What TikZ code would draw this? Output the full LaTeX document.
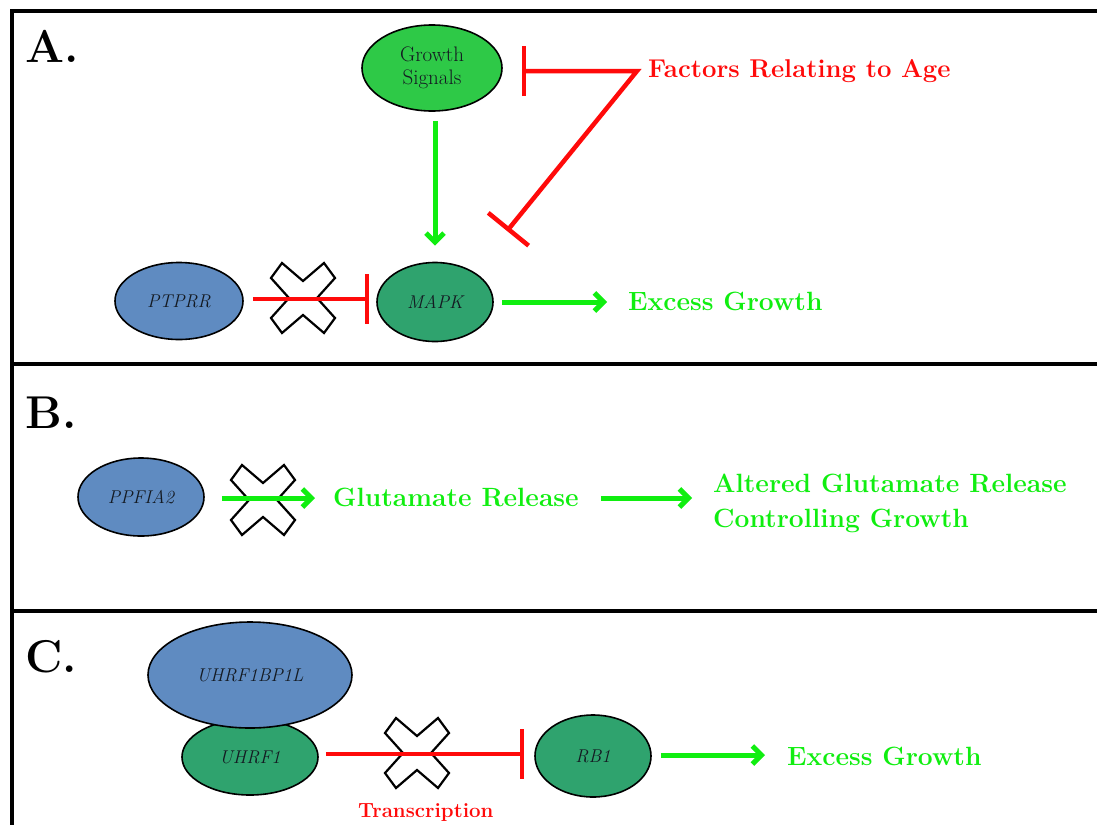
\documentclass[tikz,border=0pt]{standalone}
\usepackage{fontspec}
\setmainfont{Latin Modern Roman}
\usetikzlibrary{arrows.meta,shapes.geometric,calc}
\definecolor{actgreen}{HTML}{10EE10}
\definecolor{inhred}{HTML}{FF0A0A}
\definecolor{lightgreen}{HTML}{2EC947}
\definecolor{darkgreen}{HTML}{2FA36E}
\definecolor{protblue}{HTML}{5F8BC1}
\definecolor{nodetext}{HTML}{141A22}
\begin{document}
\begin{tikzpicture}[x=1pt,y=-1pt,
  frame/.style={line width=4pt,black},
  prot/.style={ellipse,draw=black,line width=1.6pt,inner sep=0pt,text=nodetext,
    font=\fontsize{18.5}{22}\selectfont\itshape},
  act/.style={actgreen,line width=5pt,-{Straight Barb[length=9pt,width=18pt]}},
  inhib/.style={inhred,line width=4.5pt,-{Bar[width=50pt]}},
  gtext/.style={text=actgreen,font=\fontsize{26.4}{35}\selectfont\bfseries,inner sep=0pt,anchor=base west},
  rtext/.style={text=inhred,font=\fontsize{25.7}{30}\selectfont\bfseries,inner sep=0pt,anchor=base west},
  panellabel/.style={font=\fontsize{46}{50}\selectfont\bfseries,inner sep=0pt,anchor=base west},
  crossmark/.pic={\draw[black,line width=2.2pt,fill=white,line join=miter]
    (-32,-20) -- (-21,-35) -- (0,-17) -- (21,-35) -- (32,-20) -- (14,0) --
    (32,20) -- (21,35) -- (0,17) -- (-21,35) -- (-32,20) -- (-14,0) -- cycle;}
]
\useasboundingbox (0,0) rectangle (1097,825);
\fill[white] (0,0) rectangle (1097,825);
% frame
\draw[frame] (1097,11) -- (12,11) -- (12,825);
\draw[frame] (12,364) -- (1097,364);
\draw[frame] (12,611) -- (1097,611);
% panel labels
\node[panellabel] (la) at (25,62) {A.};
\node[panellabel] (lb) at (25,428) {B.};
\node[panellabel] (lc) at (25,672) {C.};

% ---------- Panel A
\node[prot,fill=lightgreen,minimum width=140pt,minimum height=86pt,align=center,
  font=\fontsize{21}{23}\selectfont] (gs) at (432,68) {Growth\\Signals};
\node[prot,fill=protblue,minimum width=128pt,minimum height=77pt] (ptprr) at (179,301) {PTPRR};
\node[prot,fill=darkgreen,minimum width=116pt,minimum height=79pt] (mapk) at (435,302) {MAPK};
\node[rtext] (age) at (648,77) {Factors Relating to Age};
\node[gtext] (eg1) at (628,310) {Excess Growth};
\coordinate (fa) at (637,71);
\coordinate (mt) at (507,231);
\pic (x1) at (303,298) {crossmark};
\draw[act] ($(gs.south)+(3,9)$) -- ($(mapk.north)+(0,-16)$);
\draw[inhred,line width=4.5pt,line join=miter,{Bar[width=50pt]}-{Bar[width=52pt]}]
  ($(gs.east)+(19,3)$) -- (fa) -- (mt);
\draw[inhib] ($(ptprr.east)+(9,-2)$) -- ($(ptprr.east -| mapk.west)+(-7,-2)$);
\draw[act] ($(mapk.east)+(8,0)$) -- ($(mapk.east -| eg1.west)+(-21,0)$);

% ---------- Panel B
\node[prot,fill=protblue,minimum width=126pt,minimum height=78pt] (ppfia) at (141,497) {PPFIA2};
\node[gtext] (glu) at (333,506) {Glutamate Release};
\node[gtext,align=left,anchor=west] (alt) at (713,503) {Altered Glutamate Release\\Controlling Growth};
\pic (x2) at (263,500) {crossmark};
\draw[act] ($(ppfia.east)+(17,1)$) -- ($(ppfia.east -| glu.west)+(-18,1)$);
\draw[act] ($(ppfia.east -| glu.east)+(22,1)$) -- ($(ppfia.east -| alt.west)+(-21,1)$);

% ---------- Panel C
\node[prot,fill=darkgreen,minimum width=136pt,minimum height=76pt] (uhrf) at (250,757) {UHRF1};
\node[prot,fill=protblue,minimum width=204pt,minimum height=106pt] (ubp) at (250,675) {UHRF1BP1L};
\node[prot,fill=darkgreen,minimum width=116pt,minimum height=82pt] (rb) at (593,756) {RB1};
\node[rtext,font=\fontsize{20.5}{24}\selectfont\bfseries] (tr) at (358,817) {Transcription};
\node[gtext] (eg2) at (787,765) {Excess Growth};
\pic (x3) at (417,753) {crossmark};
\draw[inhib] ($(uhrf.east)+(7,-3)$) -- ($(uhrf.east -| rb.west)+(-10,-3)$);
\draw[act] ($(rb.east)+(9,-1)$) -- ($(rb.east -| eg2.west)+(-22,-1)$);
\end{tikzpicture}
\end{document}
